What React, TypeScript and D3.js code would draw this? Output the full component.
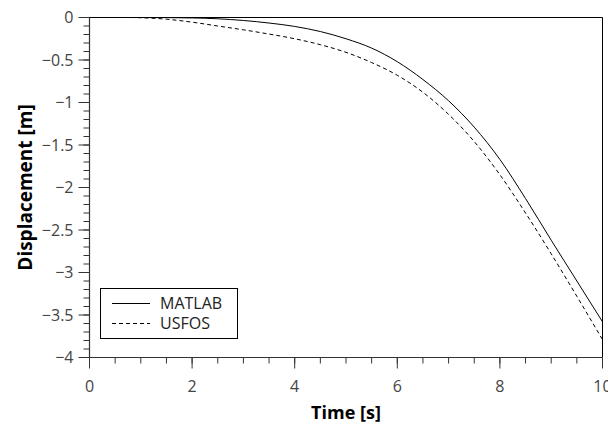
import React from "react";
import * as d3 from "d3";

const matlabT = [0, 1, 2, 2.5, 3, 3.5, 4, 4.5, 5, 5.5, 6, 6.5, 7, 7.5, 8, 8.5, 9, 9.5, 10];
const matlabY = [0, 0, -0.005, -0.015, -0.035, -0.065, -0.105, -0.165, -0.25, -0.36, -0.52, -0.73, -0.98, -1.29, -1.67, -2.13, -2.62, -3.1, -3.58];
const usfosT = [0.8, 1, 1.5, 2, 2.5, 3, 3.5, 4, 4.5, 5, 5.5, 6, 6.5, 7, 7.5, 8, 8.5, 9, 9.5, 10];
const usfosY = [0, -0.003, -0.02, -0.055, -0.1, -0.145, -0.195, -0.25, -0.32, -0.41, -0.53, -0.68, -0.88, -1.14, -1.46, -1.85, -2.3, -2.78, -3.28, -3.79];
const xTicks = [0, 2, 4, 6, 8, 10];
const yTicks = [0, -0.5, -1, -1.5, -2, -2.5, -3, -3.5, -4];
const seriesNames = ["MATLAB", "USFOS"];

const W = 608, H = 425;
const L = 89.5, R = 602.5, T = 17.5, B = 357.5;
const tickFont = "'Open Sans', sans-serif";
const tickColor = "#444";

export default function App() {
  const x = d3.scaleLinear().domain([0, 10]).range([L, R]);
  const y = d3.scaleLinear().domain([-4, 0]).range([B, T]);
  const line = d3.line<[number, number]>().x(d => x(d[0])).y(d => y(d[1])).curve(d3.curveMonotoneX);
  const mData = matlabT.map((t, i) => [t, matlabY[i]] as [number, number]);
  const uData = usfosT.map((t, i) => [t, usfosY[i]] as [number, number]);
  const xMinor = d3.range(0, 10.001, 0.5);
  const yMinor = d3.range(0, 41).map(i => -i / 10);
  const fmt = (v: number) => (v < 0 ? "\u2212" + String(-v) : String(v));
  return (
    <svg width={W} height={H} style={{ position: "absolute", left: 0, top: 0 }}>
      <rect x={0} y={0} width={W} height={H} fill="#fff" />
      <path d={line(mData) || ""} fill="none" stroke="#000" strokeWidth={1} />
      <path d={line(uData) || ""} fill="none" stroke="#000" strokeWidth={1} strokeDasharray="4,3" />
      <line x1={L} x2={R} y1={T} y2={T} stroke="#000" strokeWidth={1} />
      <line x1={R} x2={R} y1={T} y2={B} stroke="#000" strokeWidth={1} />
      <line x1={L} x2={L} y1={T} y2={B} stroke="#333" strokeWidth={1.2} />
      <line x1={L} x2={R} y1={B} y2={B} stroke="#333" strokeWidth={1.2} />
      {yMinor.map((v, i) => (
        <line key={"ym" + i} x1={L - 6} x2={L} y1={y(v)} y2={y(v)} stroke="#333" strokeWidth={1} />
      ))}
      {yTicks.map((v, i) => (
        <g key={"y" + i}>
          <line x1={L - 11} x2={L} y1={y(v)} y2={y(v)} stroke="#333" strokeWidth={1} />
          <text x={L - 16} y={y(v)} dy="0.35em" textAnchor="end" fontFamily={tickFont} fontSize={16} fill={tickColor}>{fmt(v)}</text>
        </g>
      ))}
      {xMinor.map((v, i) => (
        <line key={"xm" + i} x1={x(v)} x2={x(v)} y1={B} y2={B + 6} stroke="#333" strokeWidth={1} />
      ))}
      {xTicks.map((v, i) => (
        <g key={"x" + i}>
          <line x1={x(v)} x2={x(v)} y1={B} y2={B + 11} stroke="#333" strokeWidth={1} />
          <text x={x(v)} y={392} textAnchor="middle" fontFamily={tickFont} fontSize={16} fill={tickColor}>{fmt(v)}</text>
        </g>
      ))}
      <text x={(L + R) / 2} y={419} textAnchor="middle" fontFamily={tickFont} fontWeight="bold" fontSize={18} fill="#000">Time [s]</text>
      <text transform={`translate(32,${(T + B) / 2}) rotate(-90)`} textAnchor="middle" fontFamily={tickFont} fontWeight="bold" fontSize={19} fill="#000">Displacement [m]</text>
      <rect x={100.5} y={288.5} width={137} height={50} fill="#fff" stroke="#000" strokeWidth={1} />
      {seriesNames.map((n, i) => (
        <g key={n}>
          <line x1={112} x2={150} y1={303.5 + i * 20} y2={303.5 + i * 20} stroke="#000" strokeWidth={1} strokeDasharray={i === 1 ? "4,3" : undefined} />
          <text x={160} y={303.5 + i * 20} dy="0.35em" fontFamily={tickFont} fontSize={16} fill="#222">{n}</text>
        </g>
      ))}
    </svg>
  );
}
